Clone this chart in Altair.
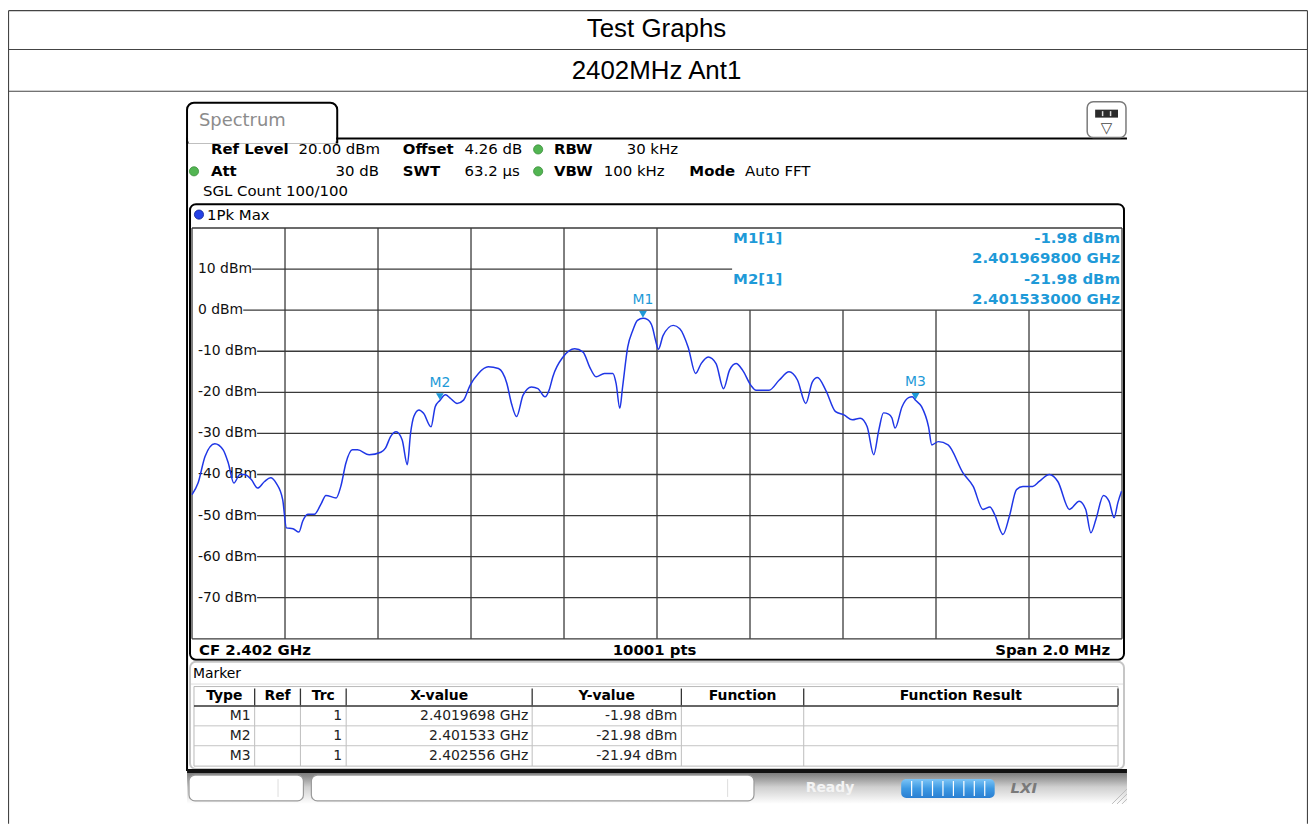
import altair as alt
import pandas as pd

# ------------------------------------------------------------------ data
trace_freq_mhz = [
    2401.000, 2401.013, 2401.028, 2401.049, 2401.067, 2401.078, 2401.090, 2401.103,
    2401.113, 2401.128, 2401.141, 2401.156, 2401.169, 2401.181, 2401.195, 2401.203,
    2401.217, 2401.230, 2401.238, 2401.249, 2401.263, 2401.277, 2401.288, 2401.310,
    2401.320, 2401.331, 2401.345, 2401.356, 2401.381, 2401.406, 2401.416, 2401.427,
    2401.439, 2401.452, 2401.463, 2401.470, 2401.477, 2401.488, 2401.498, 2401.514,
    2401.523, 2401.533, 2401.545, 2401.556, 2401.570, 2401.584, 2401.598, 2401.616,
    2401.637, 2401.659, 2401.677, 2401.687, 2401.698, 2401.712, 2401.730, 2401.744,
    2401.759, 2401.769, 2401.776, 2401.798, 2401.823, 2401.841, 2401.855, 2401.869,
    2401.887, 2401.905, 2401.912, 2401.920, 2401.926, 2401.937, 2401.948, 2401.958,
    2401.970, 2401.980, 2401.990, 2401.997, 2402.003, 2402.013, 2402.035, 2402.049,
    2402.067, 2402.083, 2402.095, 2402.110, 2402.127, 2402.143, 2402.156, 2402.170,
    2402.184, 2402.202, 2402.213, 2402.241, 2402.263, 2402.284, 2402.302, 2402.320,
    2402.334, 2402.345, 2402.363, 2402.384, 2402.402, 2402.420, 2402.437, 2402.452,
    2402.466, 2402.477, 2402.487, 2402.498, 2402.505, 2402.512, 2402.527, 2402.541,
    2402.549, 2402.556, 2402.569, 2402.584, 2402.591, 2402.605, 2402.626, 2402.658,
    2402.680, 2402.701, 2402.716, 2402.726, 2402.744, 2402.758, 2402.773, 2402.787,
    2402.808, 2402.822, 2402.844, 2402.862, 2402.887, 2402.908, 2402.922, 2402.933,
    2402.944, 2402.960, 2402.972, 2402.983, 2402.991, 2402.999,
]
trace_level_dbm = [
    -44.9, -42.1, -35.6, -32.5, -34.0, -37.2, -42.1, -40.0,
    -40.0, -41.3, -43.3, -41.7, -40.8, -42.1, -46.1, -53.0,
    -53.2, -54.0, -51.4, -49.7, -49.7, -47.3, -45.1, -45.7,
    -42.9, -37.2, -34.0, -34.0, -35.2, -34.6, -33.6, -30.8,
    -29.6, -31.6, -37.6, -30.0, -25.9, -24.3, -25.1, -28.4,
    -23.5, -21.98, -20.6, -21.5, -22.7, -21.9, -18.3, -15.4,
    -13.8, -14.2, -17.8, -22.7, -25.9, -20.7, -18.7, -19.1,
    -21.1, -19.1, -16.2, -11.4, -9.4, -10.2, -13.8, -16.2,
    -15.4, -15.4, -17.8, -23.9, -18.7, -9.0, -4.9, -2.5,
    -1.98, -2.3, -4.1, -7.4, -9.5, -6.2, -3.7, -4.5,
    -9.0, -15.4, -13.0, -11.4, -13.0, -19.1, -14.6, -13.0,
    -14.6, -18.3, -19.5, -19.5, -17.0, -15.0, -17.0, -22.7,
    -17.5, -16.4, -19.5, -24.7, -25.5, -26.7, -26.3, -28.4,
    -35.2, -29.2, -25.0, -25.3, -26.2, -28.7, -23.5, -21.3,
    -21.1, -21.94, -23.5, -28.4, -32.8, -32.0, -32.8, -39.6,
    -42.9, -48.5, -47.9, -49.7, -54.6, -50.1, -43.7, -42.9,
    -42.9, -41.7, -40.0, -41.7, -48.5, -46.5, -48.5, -54.2,
    -50.9, -45.1, -46.5, -50.5, -46.9, -44.1,
]
marker_names = ["M1", "M2", "M3"]
marker_freq_mhz = [2401.9698, 2401.533, 2402.556]
marker_level_dbm = [-1.98, -21.98, -21.94]
marker_trace = [1, 1, 1]

grid_levels_dbm = [10, 0, -10, -20, -30, -40, -50, -60, -70]
grid_freqs_mhz = [2401.2, 2401.4, 2401.6, 2401.8, 2402.0, 2402.2, 2402.4, 2402.6, 2402.8]
ref_level_dbm = 20.0
bottom_level_dbm = -80.0
start_freq_mhz = 2401.0
stop_freq_mhz = 2403.0

page_title = "Test Graphs"
page_subtitle = "2402MHz Ant1"
tab_label = "Spectrum"
trace_label = "1Pk Max"
cf_label = "CF 2.402 GHz"
pts_label = "10001 pts"
span_label = "Span 2.0 MHz"
table_headers = ["Type", "Ref", "Trc", "X-value", "Y-value", "Function", "Function Result"]

# ------------------------------------------------------------------ layout (page pixels)
OX, OY = 8, 8
W, H = 1307, 818
GX0, GX1, GY0, GY1 = 193, 1128, 227, 640
INFO_LEFT = 736
FONT = "DejaVu Sans"
MBLUE = "#1e9ad8"
GRID = "#3a3a3a"

XS = alt.Scale(domain=[start_freq_mhz, stop_freq_mhz], range=[GX0 - OX, GX1 - OX], nice=False, zero=False)
YS = alt.Scale(domain=[bottom_level_dbm, ref_level_dbm], range=[GY1 - OY, GY0 - OY], nice=False, zero=False)

layers = []


def pxdf(rows, cols):
    df = pd.DataFrame(rows, columns=cols)
    for c in cols:
        if c.startswith("x"):
            df[c] = df[c] - OX
        elif c.startswith("y"):
            df[c] = df[c] - OY
    return df


def rules(rows, color="black", width=1.0, **kw):
    df = pxdf(rows, ["x", "y", "x2", "y2"])
    return alt.Chart(df).mark_rule(color=color, strokeWidth=width, **kw).encode(
        x=alt.X("x:Q", scale=None, axis=None), y=alt.Y("y:Q", scale=None, axis=None),
        x2="x2:Q", y2="y2:Q")


def rects(rows, **kw):
    df = pxdf(rows, ["x", "y", "x2", "y2"])
    return alt.Chart(df).mark_rect(**kw).encode(
        x=alt.X("x:Q", scale=None, axis=None), y=alt.Y("y:Q", scale=None, axis=None),
        x2="x2:Q", y2="y2:Q")


def texts(rows, size=15, weight="normal", align="left", color="black", font=FONT, **kw):
    df = pxdf(rows, ["x", "y", "t"])
    return alt.Chart(df).mark_text(font=font, fontSize=size, fontWeight=weight, align=align,
                                   baseline="middle", color=color, **kw).encode(
        x=alt.X("x:Q", scale=None, axis=None), y=alt.Y("y:Q", scale=None, axis=None), text="t:N")


def dots(rows, color, size=60, stroke=None):
    df = pxdf(rows, ["x", "y"])
    kw = dict(color=color, size=size, opacity=1)
    if stroke:
        kw.update(stroke=stroke, strokeWidth=0.8)
    return alt.Chart(df).mark_circle(**kw).encode(
        x=alt.X("x:Q", scale=None, axis=None), y=alt.Y("y:Q", scale=None, axis=None))


# ---- outer document table
layers.append(rules([[8.5, 8.5, 1314.5, 8.5], [8.5, 47.5, 1314.5, 47.5], [8.5, 89.5, 1314.5, 89.5],
                     [8.5, 8.5, 8.5, 826], [1314.5, 8.5, 1314.5, 826]], color="#444", width=1.2))
layers.append(texts([[660, 27, page_title], [660, 69, page_subtitle]], size=26, font="Liberation Sans",
                    align="center"))

# ---- spectrum tab + frame lines
layers.append(rects([[188, 101, 339, 141]], fill="white", stroke="black", strokeWidth=2,
                    cornerRadiusTopLeft=7, cornerRadiusTopRight=7))
layers.append(rects([[189.5, 135.5, 337.5, 142]], fill="white"))
layers.append(rules([[338, 137, 1133, 137], [188, 136, 188, 773]], color="black", width=2))
layers.append(texts([[200, 119.5, tab_label]], size=18, color="#8c8c8c"))

# ---- top-right icon
layers.append(rects([[1093, 100, 1132, 136]], fill="white", stroke="#7a7a7a", strokeWidth=1.5, cornerRadius=6))
layers.append(rects([[1101, 108, 1124, 116]], fill="#2a2a2a"))
layers.append(rules([[1108.5, 109.5, 1108.5, 114.5], [1116.5, 109.5, 1116.5, 114.5]], color="#ddd", width=1.5))
layers.append(texts([[1112.5, 126, "▽"]], size=15, color="#444", align="center"))

# ---- settings header
layers.append(texts([[212, 148, "Ref Level"], [405, 148, "Offset"], [557, 148, "RBW"],
                     [212, 170, "Att"], [405, 170, "SWT"], [557, 170, "VBW"], [693, 170, "Mode"]],
                    weight="bold"))
layers.append(texts([[300, 148, "20.00 dBm"], [467, 148, "4.26 dB"], [630, 148, "30 kHz"],
                     [467, 170, "63.2 µs"], [607, 170, "100 kHz"], [749, 170, "Auto FFT"],
                     [204, 190, "SGL Count 100/100"]]))
layers.append(texts([[381, 170, "30 dB"]], align="right"))
layers.append(dots([[541, 148], [195, 170], [541, 170]], color="#52b552", size=85, stroke="#3d8f3d"))

# ---- diagram frame
layers.append(rects([[191, 203, 1130, 661]], fill="white", stroke="black", strokeWidth=2, cornerRadius=6))
layers.append(dots([[200, 213.5]], color="#2642e6", size=85, stroke="#102090"))
layers.append(texts([[208, 213.5, trace_label]]))

# ---- grid (through the data scales)
DV = {"0": .636, "1": .636, "2": .636, "3": .636, "4": .636, "5": .636, "6": .636, "7": .636,
      "8": .636, "9": .636, " ": .318, "d": .635, "B": .686, "m": .974, "-": .361}
lab_x = 199
lab_size = 14
lab_text = [f"{v} dBm" for v in grid_levels_dbm]
hgrid = pd.DataFrame({
    "level": grid_levels_dbm + [ref_level_dbm, bottom_level_dbm],
    "xs": [lab_x + sum(DV[c] for c in t) * lab_size - OX for t in lab_text] + [GX0 - OX, GX0 - OX],
    "xe": [(INFO_LEFT if v > 0 else GX1) - OX for v in grid_levels_dbm] + [GX1 - OX, GX1 - OX],
})
layers.append(alt.Chart(hgrid).mark_rule(color=GRID, strokeWidth=1.3).encode(
    x=alt.X("xs:Q", scale=None, axis=None), x2="xe:Q",
    y=alt.Y("level:Q", scale=YS, axis=None)))

info_f = start_freq_mhz + (INFO_LEFT - GX0) / (GX1 - GX0) * (stop_freq_mhz - start_freq_mhz)
vgrid = pd.DataFrame({
    "freq": [start_freq_mhz] + grid_freqs_mhz + [stop_freq_mhz],
    "top": [ref_level_dbm] + [0.0 if f > info_f else ref_level_dbm for f in grid_freqs_mhz] + [ref_level_dbm],
    "bottom": [bottom_level_dbm] * (len(grid_freqs_mhz) + 2),
})
layers.append(alt.Chart(vgrid).mark_rule(color=GRID, strokeWidth=1.3).encode(
    x=alt.X("freq:Q", scale=XS, axis=None),
    y=alt.Y("top:Q", scale=YS, axis=None), y2="bottom:Q"))

ylabels = pd.DataFrame({"level": grid_levels_dbm, "t": lab_text})
layers.append(alt.Chart(ylabels).mark_text(font=FONT, fontSize=lab_size, align="left", baseline="middle",
                                           color="#111").encode(
    x=alt.value(lab_x - OX), y=alt.Y("level:Q", scale=YS, axis=None), text="t:N"))

# ---- trace
trace = pd.DataFrame({"freq": trace_freq_mhz, "level": trace_level_dbm})
layers.append(alt.Chart(trace).mark_line(color="#1f36e6", strokeWidth=1.5, interpolate="monotone").encode(
    x=alt.X("freq:Q", scale=XS, axis=None), y=alt.Y("level:Q", scale=YS, axis=None)))

# ---- markers
mk = pd.DataFrame({"name": marker_names, "freq": marker_freq_mhz, "level": marker_level_dbm})
layers.append(alt.Chart(mk).mark_point(shape="triangle-down", filled=True, size=60, color=MBLUE,
                                       opacity=1, yOffset=-4).encode(
    x=alt.X("freq:Q", scale=XS, axis=None), y=alt.Y("level:Q", scale=YS, axis=None)))
layers.append(alt.Chart(mk).mark_text(font=FONT, fontSize=14, color=MBLUE, dy=-18, baseline="middle").encode(
    x=alt.X("freq:Q", scale=XS, axis=None), y=alt.Y("level:Q", scale=YS, axis=None), text="name:N"))

# ---- marker info block (top right)
info_rows_l, info_rows_r = [], []
for i, yy in zip(range(2), [237, 278]):
    info_rows_l.append([737, yy, f"{marker_names[i]}[{marker_trace[i]}]"])
    info_rows_r.append([1126, yy, f"{marker_level_dbm[i]:.2f} dBm"])
    info_rows_r.append([1126, yy + 20, f"{marker_freq_mhz[i] / 1000:.9f} GHz"])
layers.append(texts(info_rows_l, weight="bold", color=MBLUE))
layers.append(texts(info_rows_r, weight="bold", color=MBLUE, align="right"))

# ---- CF bar
layers.append(texts([[200, 651, cf_label]], weight="bold"))
layers.append(texts([[658, 651, pts_label]], weight="bold", align="center"))
layers.append(texts([[1116, 651, span_label]], weight="bold", align="right"))

# ---- marker table
layers.append(rects([[191, 663, 1130, 771]], fill="white", stroke="#c6c6c6", strokeWidth=2, cornerRadius=6))
layers.append(texts([[194, 675, "Marker"]], size=14))
layers.append(rules([[192, 685.5, 1129, 685.5]], color="#dedede", width=1))
seps = [195, 256, 302, 348, 535, 685, 808, 1124]
layers.append(rects([[195, 688, 1124, 768]], fill="white", stroke="#b8b8b8", strokeWidth=1))
layers.append(rules([[s, 690, s, 707] for s in seps[1:]], color="#333", width=1.3))
layers.append(rules([[s, 707, s, 768] for s in seps[1:-1]], color="#bdbdbd", width=1))
layers.append(rules([[195, 707.5, 1124, 707.5]], color="#333", width=1.5))
layers.append(rules([[195, 727.5, 1124, 727.5], [195, 747.5, 1124, 747.5]], color="#c4c4c4", width=1))
layers.append(texts([[(seps[i] + seps[i + 1]) / 2, 697.5, h] for i, h in enumerate(table_headers)],
                    size=14, weight="bold", align="center"))
row_cells = []
for i in range(len(marker_names)):
    yy = 718 + 20 * i
    xv = f"{marker_freq_mhz[i] / 1000:.7f}".rstrip("0")
    row_cells += [[seps[1] - 4, yy, marker_names[i]], [seps[3] - 4, yy, str(marker_trace[i])],
                  [seps[4] - 4, yy, f"{xv} GHz"], [seps[5] - 4, yy, f"{marker_level_dbm[i]:.2f} dBm"]]
layers.append(texts(row_cells, size=14, align="right", color="#222"))

# ---- status bar
layers.append(rects([[188, 771, 1133, 775]], fill="#111"))
grad = {"gradient": "linear", "x1": 0, "y1": 0, "x2": 0, "y2": 1,
        "stops": [{"offset": 0, "color": "#7c7c7c"}, {"offset": 0.45, "color": "#cfcfcf"},
                  {"offset": 1, "color": "#ffffff"}]}
layers.append(rects([[188, 775, 1133, 806]], fill=grad))
layers.append(rects([[190, 777, 305, 803], [313, 777, 758, 803]], fill="white", stroke="#9a9a9a",
                    strokeWidth=1.2, cornerRadius=6))
layers.append(rules([[279.5, 781, 279.5, 799], [731.5, 781, 731.5, 799]], color="#dddddd", width=1))
layers.append(texts([[810, 790, "Ready"]], size=14, weight="bold", color="#f4f4f4"))
bgrad = {"gradient": "linear", "x1": 0, "y1": 0, "x2": 0, "y2": 1,
         "stops": [{"offset": 0, "color": "#7cc4f6"}, {"offset": 0.5, "color": "#3d99e3"},
                   {"offset": 1, "color": "#2a7fd2"}]}
layers.append(rects([[906, 781, 1000, 800]], fill=bgrad, cornerRadius=5))
layers.append(rules([[906 + 10.5 * k, 783, 906 + 10.5 * k, 798] for k in range(1, 9)], color="white", width=1.2))
layers.append(texts([[1016, 790, "LXI"]], size=15, weight="bold", color="#7a7a7a", fontStyle="italic"))
layers.append(rules([[1118, 806, 1133, 791], [1123, 806, 1133, 796], [1128, 806, 1133, 801]],
                    color="#bbbbbb", width=1))

chart = alt.layer(*layers).resolve_scale(x="independent", y="independent").properties(
    width=W, height=H, padding=0, autosize=alt.AutoSizeParams(type="none")
).configure_view(stroke=None)

chart.save("out.html", embed_options={"renderer": "svg", "actions": False})
